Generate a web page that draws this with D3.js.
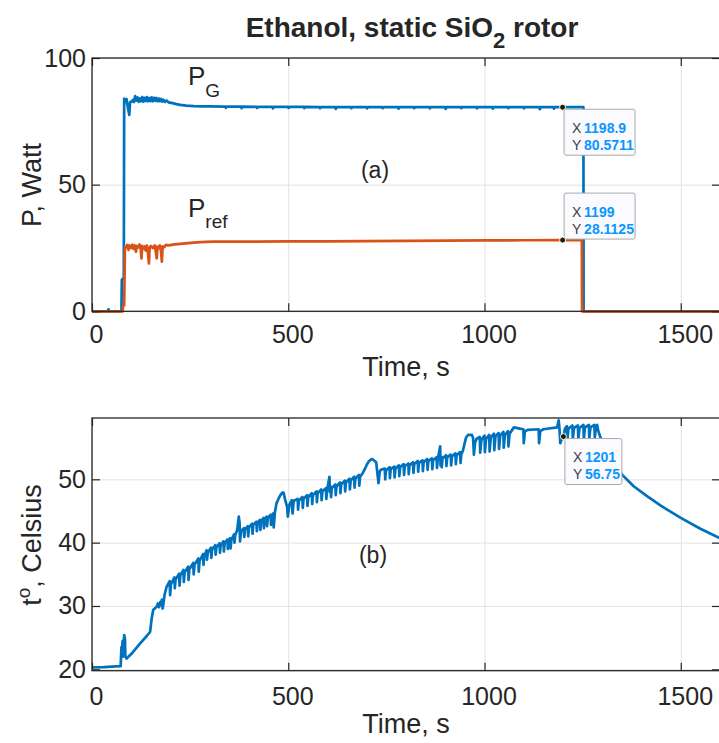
<!DOCTYPE html>
<html><head><meta charset="utf-8">
<script src="https://cdn.jsdelivr.net/npm/d3@7"></script>
<style>
html,body{margin:0;padding:0;background:#fff;}
svg text{font-family:"Liberation Sans",Arial,Helvetica,sans-serif;fill:#262626;}
</style></head><body>
<svg id="c" width="719" height="743"></svg>
<script>
// ---------- data ----------
const xTicks = [0, 500, 1000, 1500];
const pTicks = [0, 50, 100];
const tTicks = [20, 30, 40, 50];

// generator power P_G [time s, W]
const powerG = [[0,0],[40,0],[42,0.8],[44,0],[75,0],[76,12.5],[81,13.2],[82,84.0],[85,82.5],[88,83.8],[92,80.0],[95,77.5],[97,82.5],[101,82.8],[104,83.4],[107,82.6],[110,85.0],[113,83.2],[116,84.4],[119,82.7],[122,84.1],[125,82.9],[128,84.6],[131,82.8],[134,84.3],[137,83.0],[140,84.6],[143,82.9],[146,84.2],[149,83.0],[152,84.5],[155,82.9],[158,84.3],[161,83.1],[164,84.2],[167,82.9],[170,84.0],[173,83.0],[176,83.8],[179,82.8],[182,83.5],[186,82.7],[190,83.2],[195,82.5],[205,82.2],[215,81.8],[225,81.5],[240,81.2],[260,81.0],[280,80.9],[300,80.9],[340,80.8],[341,80.3],[343,80.8],[380,80.8],[381,80.2],[383,80.8],[420,80.7],[421,80.3],[423,80.7],[460,80.7],[461,80.1],[463,80.7],[500,80.7],[501,80.3],[503,80.7],[540,80.7],[541,80.2],[543,80.7],[580,80.6],[581,80.2],[583,80.6],[620,80.6],[621,79.9],[623,80.6],[660,80.6],[661,80.2],[663,80.6],[700,80.6],[701,80.1],[703,80.6],[740,80.6],[741,80.2],[743,80.6],[780,80.6],[781,80.0],[783,80.6],[820,80.6],[821,80.2],[823,80.6],[860,80.6],[861,80.1],[863,80.6],[900,80.6],[901,79.9],[903,80.6],[940,80.6],[941,80.2],[943,80.6],[980,80.6],[981,80.1],[983,80.6],[1020,80.6],[1021,80.0],[1023,80.6],[1060,80.6],[1061,80.2],[1063,80.6],[1100,80.6],[1101,80.1],[1103,80.6],[1140,80.6],[1141,79.8],[1143,80.6],[1176,80.6],[1177,80.0],[1179,80.6],[1198.9,80.57],[1220,80.6],[1252,80.6],[1252.5,0],[1600,0]];

// reference power P_ref [time s, W]
const powerRef = [[0,0],[78,0],[79,2.0],[82,2.3],[84,25.5],[88,25.3],[90,26.2],[93,24.2],[96,26.0],[100,25.0],[103,26.3],[106,24.6],[109,26.0],[112,23.5],[114,25.8],[118,25.2],[121,26.4],[124,25.0],[126,20.9],[128,25.8],[131,24.8],[134,25.6],[137,24.0],[140,26.0],[143,22.5],[145,18.9],[147,25.2],[150,25.8],[155,25.0],[160,26.0],[163,23.0],[165,20.9],[167,25.5],[170,25.0],[173,26.0],[176,23.5],[178,19.6],[180,25.6],[184,25.3],[188,26.2],[195,26.0],[210,26.4],[225,26.6],[245,26.9],[267,27.2],[290,27.4],[310,27.5],[400,27.5],[500,27.6],[600,27.6],[700,27.7],[800,27.8],[900,27.9],[1000,28.0],[1100,28.05],[1199,28.11],[1248,28.15],[1248.5,0],[1600,0]];

// rotor temperature [time s, deg C]
const temperature = [[0,20.3],[30,20.35],[60,20.45],[73,20.5],[75,23.5],[76,22.5],[78,24.5],[79,22.0],[82,25.4],[84,24.8],[85,22.0],[88,21.7],[100,22.4],[120,23.9],[140,25.3],[148,25.9],[152,28.0],[156,29.4],[160,29.6],[165,29.9],[168,30.4],[171,29.8],[174,30.6],[176,30.2],[178,31.0],[180,29.6],[182,30.4],[185,31.8],[190,33.0],
[198,33.9],[199,31.7],[201,33.4],[210,34.5],[211,32.8],[213,34.2],[222,35.1],[223,33.2],[225,34.8],[233,35.7],[234,33.8],[236,35.3],[245,36.2],[246,34.1],[248,35.8],[258,36.8],[259,35.0],[261,36.5],[271,37.5],[272,35.4],[274,37.1],[283,38.2],[284,36.5],[286,37.9],[292,38.8],[293,37.3],[295,38.4],[303,39.2],[304,37.6],[306,38.9],[314,39.6],[315,38.1],[317,39.3],[325,39.9],[326,38.4],[328,39.6],[335,40.2],[336,38.6],[338,39.9],[345,40.5],[346,39.0],[348,40.2],[352,40.7],[353,39.1],[355,40.4],[362,41.3],[363,40.0],[365,41.2],[370,42.0],[374,44.1],[376,43.2],[377,40.2],[380,41.8],[387,42.3],[388,40.9],[390,42.1],[397,42.6],[398,41.0],[400,42.4],[408,43.0],[409,41.4],[411,42.8],[419,43.3],[420,41.8],[422,43.1],[428,43.6],[429,42.0],[431,43.4],[437,43.9],[438,42.3],[440,43.7],[445,44.1],[446,42.6],[448,43.9],[455,44.4],[456,42.8],[458,44.2],[462,44.6],[463,42.4],[466,44.8],[470,46.2],[475,46.9],[480,47.5],[485,47.9],[488,47.9],[492,46.8],[497,45.7],[499,44.1],[503,46.0],[509,46.7],[511,44.6],[514,46.6],
[524,46.9],[525,45.2],[527,46.6],[536,47.2],[537,45.5],[539,46.9],[548,47.5],[549,45.8],[551,47.2],[560,47.8],[561,46.1],[563,47.5],[572,48.1],[573,46.4],[575,47.8],[584,48.4],[585,46.7],[587,48.1],[596,48.6],[597,46.9],[599,48.3],[605,50.4],[606,48.0],[608,48.9],[609,47.2],[611,48.6],[620,49.2],[621,47.5],[623,48.9],[632,49.5],[633,47.8],[635,49.2],[644,49.8],[645,48.1],[647,49.5],[656,50.1],[657,48.4],[659,49.8],[668,50.4],[669,48.7],[671,50.1],[680,50.7],[681,49.0],[683,50.4],[690,51.0],[695,51.6],[700,52.3],[705,52.8],[710,53.1],[714,53.2],[720,52.9],[724,52.7],[727,51.0],[730,49.4],[733,51.2],[736,51.5],
[746,51.7],[747,50.0],[749,51.4],[758,51.9],[759,50.2],[761,51.6],[770,52.0],[771,50.3],[773,51.7],[782,52.2],[783,50.5],[785,51.9],[794,52.4],[795,50.7],[797,52.1],[806,52.5],[807,50.8],[809,52.2],[818,52.7],[819,51.0],[821,52.4],[830,52.9],[831,51.2],[833,52.6],[842,53.0],[843,51.3],[845,52.7],[854,53.2],[855,51.5],[857,52.9],[866,53.3],[867,51.6],[869,53.0],[878,53.5],[879,51.8],[881,53.2],[887,55.2],[888,52.2],[890,53.6],[891,51.9],[893,53.3],[902,53.8],[903,52.1],[905,53.5],[914,53.9],[915,52.2],[917,53.6],[926,54.1],[927,52.4],[929,53.8],[938,54.3],[939,52.6],[941,54.0],[945,54.5],[949,55.6],[953,56.6],[958,57.0],[968,57.0],[971,56.5],[973,53.9],[976,55.8],[980,56.4],
[988,56.7],[989,54.2],[992,56.2],[1000,56.9],[1001,54.3],[1004,56.4],[1012,57.0],[1013,54.4],[1016,56.6],[1024,57.2],[1025,54.6],[1028,56.8],[1036,57.3],[1037,54.8],[1040,56.9],[1048,57.5],[1049,55.0],[1052,57.0],[1060,57.6],[1061,55.2],[1064,57.2],[1075,58.2],[1090,58.0],[1099,57.9],[1100,55.7],[1103,57.6],[1110,57.8],[1138,57.9],[1139,55.7],[1142,57.6],[1150,57.9],[1185,58.2],[1189,59.3],[1191,58.0],[1193,55.7],[1197,56.4],[1201,56.75],[1205,58.0],[1210,58.4],[1211,56.2],[1214,58.0],[1224,58.5],[1225,56.3],[1228,58.1],[1238,58.5],[1239,56.3],[1242,58.1],[1252,58.6],[1253,56.4],[1256,58.2],[1266,58.6],[1267,56.5],[1270,58.2],[1280,58.6],[1281,56.6],[1284,58.3],[1287,58.6],
[1290,57.6],[1300,55.8],[1315,54.0],[1330,52.5],[1351,50.7],[1380,48.9],[1415,47.3],[1450,45.8],[1500,43.9],[1550,42.2],[1600,40.7]];

// data tips
const tipsTop = [{x:1198.9, y:80.5711, xs:"1198.9", ys:"80.5711", place:"below"},
                 {x:1199,   y:28.1125, xs:"1199",   ys:"28.1125", place:"above"}];
const tipsBot = [{x:1201, y:56.75, xs:"1201", ys:"56.75", place:"below"}];

// ---------- drawing ----------
const svg = d3.select("#c");
const BLUE = "#0072BD", ORANGE = "#D95319", AX = "#262626", GRID = "#e2e2e2";
const x = d3.scaleLinear([0,1600],[92,720]);
const yTop = d3.scaleLinear([0,100],[311.3,58]);
const yBot = d3.scaleLinear([19.78,59.68],[670.7,418]);
const fmt = d3.format("d");

function panel(y, yTicks) {
  const [b, t] = y.range();
  const g = svg.append("g");
  g.append("g").attr("transform",`translate(0,${b})`)
    .call(d3.axisBottom(x).tickValues(xTicks).tickSize(-(b-t)).tickFormat(""))
    .call(s=>{s.select(".domain").remove(); s.selectAll("line").attr("stroke",GRID);});
  g.append("g").attr("transform",`translate(${x.range()[0]},0)`)
    .call(d3.axisLeft(y).tickValues(yTicks).tickSize(-(x.range()[1]-x.range()[0])).tickFormat(""))
    .call(s=>{s.select(".domain").remove(); s.selectAll("line").attr("stroke",GRID);});
  return g;
}
function axes(g, y, yTicks, xPad) {
  const [b, t] = y.range();
  const [l, r] = x.range();
  const st = s => { s.select(".domain").remove(); s.selectAll("line").attr("stroke",AX).attr("stroke-width",1.2);
    s.selectAll("text").attr("fill",AX).style("font-size","25px").attr("font-family",null); };
  g.append("g").attr("transform",`translate(0,${b})`)
    .call(d3.axisBottom(x).tickValues(xTicks).tickSize(-8).tickPadding(xPad).tickFormat(fmt)).call(st)
    .selectAll("text").attr("dx",4);
  g.append("g").attr("transform",`translate(0,${t})`)
    .call(d3.axisTop(x).tickValues(xTicks).tickSize(-8).tickFormat("")).call(st);
  g.append("g").attr("transform",`translate(${l},0)`)
    .call(d3.axisLeft(y).tickValues(yTicks).tickSize(-8).tickPadding(6).tickFormat(fmt)).call(st);
  g.append("g").attr("transform",`translate(${r},0)`)
    .call(d3.axisRight(y).tickValues(yTicks).tickSize(-8).tickFormat("")).call(st);
  g.append("rect").attr("x",l).attr("y",t).attr("width",r-l).attr("height",b-t)
    .attr("fill","none").attr("stroke",AX).attr("stroke-width",1.3);
}
function drawLine(g, data, y, color) {
  g.append("path").datum(data)
    .attr("d", d3.line().x(d=>x(d[0])).y(d=>y(d[1])))
    .attr("fill","none").attr("stroke",color).attr("stroke-width",2.7)
    .attr("stroke-linejoin","round");
}
function drawTip(g, tip, y) {
  const mx = x(tip.x), my = y(tip.y);
  const w = tip.xs.length > 4 || tip.ys.length > 5 ? 71 : 57, h = 46;
  const bx = mx + 1.5, by = tip.place === "below" ? my + 2 : my - h - 1;
  g.append("rect").attr("x",bx).attr("y",by).attr("width",w).attr("height",h).attr("rx",2)
    .attr("fill","#fafaff").attr("stroke","#a9a9a9").attr("stroke-width",1);
  [["X",tip.xs,19],["Y",tip.ys,36]].forEach(([k,v,dy])=>{
    const tx = g.append("text").attr("x",bx+8).attr("y",by+dy).attr("dy","0.35em").style("font-size","14px");
    tx.append("tspan").text(k).attr("fill","#404040");
    tx.append("tspan").attr("x",bx+20).text(v).attr("fill","#0a96ff").attr("font-weight","bold");
  });
  g.append("circle").attr("cx",mx).attr("cy",my).attr("r",3).attr("fill","#1a1a1a")
    .attr("stroke","#ffffd8").attr("stroke-width",1);
}

// top panel
const gT = panel(yTop, pTicks);
drawLine(gT, powerG, yTop, BLUE);
drawLine(gT, powerRef, yTop, ORANGE);
axes(gT, yTop, pTicks, 14);
tipsTop.forEach(t=>drawTip(gT, t, yTop));

// bottom panel
const gB = panel(yBot, tTicks);
drawLine(gB, temperature, yBot, BLUE);
axes(gB, yBot, tTicks, 16.5);
tipsBot.forEach(t=>drawTip(gB, t, yBot));

// texts
const title = svg.append("text").attr("x",412).attr("y",37).attr("text-anchor","middle")
  .attr("font-weight","bold").style("font-size","28px").attr("fill","#000");
title.append("tspan").text("Ethanol, static SiO");
title.append("tspan").text("2").attr("dy",11).style("font-size","22px");
title.append("tspan").text(" rotor").attr("dy",-11);

const pg = svg.append("text").attr("x",188).attr("y",85).style("font-size","26px").attr("fill","#000");
pg.append("tspan").text("P"); pg.append("tspan").text("G").attr("dy",12).style("font-size","19px");
const pr = svg.append("text").attr("x",188).attr("y",217).style("font-size","26px").attr("fill","#000");
pr.append("tspan").text("P"); pr.append("tspan").text("ref").attr("dy",11).style("font-size","19px");

svg.append("text").attr("x",375).attr("y",170).attr("dy","0.35em").attr("text-anchor","middle")
  .style("font-size","23px").attr("fill","#000").text("(a)");
svg.append("text").attr("x",373).attr("y",555).attr("dy","0.35em").attr("text-anchor","middle")
  .style("font-size","23px").attr("fill","#000").text("(b)");

svg.append("text").attr("x",406).attr("y",376).attr("text-anchor","middle").style("font-size","27px").text("Time, s");
svg.append("text").attr("x",406).attr("y",733).attr("text-anchor","middle").style("font-size","27px").text("Time, s");

svg.append("text").attr("transform","translate(41,185) rotate(-90)").attr("text-anchor","middle")
  .style("font-size","27px").text("P, Watt");
const tl = svg.append("text").attr("transform","translate(41,545) rotate(-90)").attr("text-anchor","middle")
  .style("font-size","27px");
tl.append("tspan").text("t");
tl.append("tspan").text("o").attr("dy",-11).style("font-size","19px");
tl.append("tspan").text(", Celsius").attr("dy",11);
</script></body></html>
